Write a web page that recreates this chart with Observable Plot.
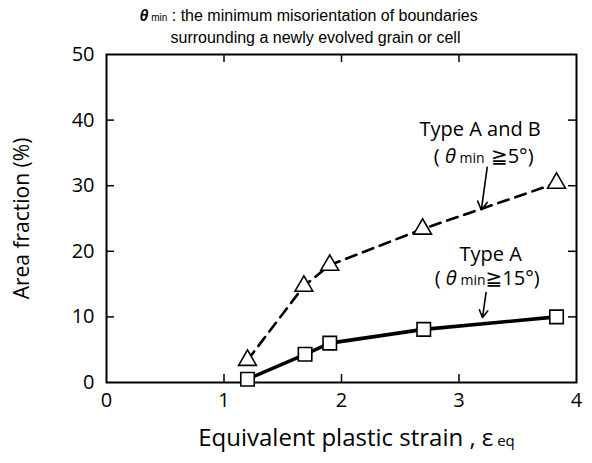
<!DOCTYPE html>
<html>
<head>
<meta charset="utf-8">
<script src="https://cdn.jsdelivr.net/npm/d3@7"></script>
<script src="https://cdn.jsdelivr.net/npm/@observablehq/plot@0.6"></script>
<style>
  html, body { margin: 0; padding: 0; background: #fff; }
  #chart svg { display: block; }
</style>
</head>
<body>
<div id="chart"></div>
<script>
// ---- data ----
const strainA = [1.2, 1.69, 1.9, 2.7, 3.83];
const fractionA = [0.5, 4.3, 6.0, 8.1, 10.0];
const strainAB = [1.2, 1.68, 1.9, 2.69, 3.83];
const fractionAB = [3.4, 14.7, 17.9, 23.4, 30.4];
const xTicks = [0, 1, 2, 3, 4];
const yTicks = [0, 10, 20, 30, 40, 50];
const xInnerTicks = [1, 2, 3];
const yInnerTicks = [10, 20, 30, 40];

const seriesA = strainA.map((x, i) => ({x, y: fractionA[i]}));
const seriesAB = strainAB.map((x, i) => ({x, y: fractionAB[i]}));

const labelFont = "'Open Sans', 'DejaVu Sans', sans-serif";
const titleFont = "'Liberation Sans', Arial, sans-serif";

const W = 592, H = 463;
const mL = 106, mR = 16, mT = 54, mB = 81;
const fw = W - mL - mR, fh = H - mT - mB;

const rich = {
  "TITLE1": [["θ", {"font-style": "italic", "font-weight": "bold"}], [" min", {"font-size": "10px"}], [" : the minimum misorientation of boundaries", {}]],
  "XLABEL": [["Equivalent plastic strain , ε", {}], [" eq", {"font-size": "15px"}]],
  "ANNAB": [["( ", {}], ["θ", {"font-style": "italic"}], [" min", {"font-size": "14px"}], [" ≧", {"font-family": "'DejaVu Sans', sans-serif"}], ["5°)", {}]],
  "ANNA": [["( ", {}], ["θ", {"font-style": "italic"}], [" min", {"font-size": "14px"}], ["≧", {"font-family": "'DejaVu Sans', sans-serif"}], ["15°)", {}]]
};

const plot = Plot.plot({
  width: W, height: H,
  marginLeft: mL, marginRight: mR, marginTop: mT, marginBottom: mB,
  style: {fontFamily: labelFont, background: "#fff", color: "#000"},
  x: {domain: [0, 4]},
  y: {domain: [0, 50]},
  marks: [
    Plot.axisX(xTicks, {tickSize: 0, tickPadding: 10, fontSize: 20, label: null, tickFormat: d3.format("d")}),
    Plot.axisY(yTicks, {tickSize: 0, tickPadding: 12, fontSize: 20, label: null, tickFormat: d3.format("d")}),
    Plot.tickX(xInnerTicks, {x: d => d, insetTop: fh - 8, strokeWidth: 1.5}),
    Plot.tickX(xInnerTicks, {x: d => d, insetBottom: fh - 8, strokeWidth: 1.5}),
    Plot.tickY(yInnerTicks, {y: d => d, insetRight: fw - 8, strokeWidth: 1.5}),
    Plot.tickY(yInnerTicks, {y: d => d, insetLeft: fw - 8, strokeWidth: 1.5}),
    Plot.frame({strokeWidth: 2}),
    Plot.line(seriesAB, {x: "x", y: "y", strokeWidth: 2.6, strokeDasharray: "11,7"}),
    Plot.line(seriesA, {x: "x", y: "y", strokeWidth: 3.6}),
    Plot.dot(seriesAB, {x: "x", y: "y", symbol: "triangle", r: 6.6, fill: "white", stroke: "black", strokeWidth: 1.6}),
    Plot.dot(seriesA, {x: "x", y: "y", symbol: "square", r: 7.6, fill: "white", stroke: "black", strokeWidth: 1.6}),
    Plot.arrow([{x1: 3.24, y1: 32.8, x2: 3.19, y2: 26.3}], {x1: "x1", y1: "y1", x2: "x2", y2: "y2", strokeWidth: 1.6, headLength: 9}),
    Plot.arrow([{x1: 3.23, y1: 13.7, x2: 3.2, y2: 9.9}], {x1: "x1", y1: "y1", x2: "x2", y2: "y2", strokeWidth: 1.6, headLength: 9}),
    Plot.text(["Type A and B"], {x: [3.18], y: [38.5], text: d => d, fontSize: 20, textAnchor: "middle"}),
    Plot.text(["ANNAB"], {x: [3.21], y: [34.5], text: d => d, fontSize: 20, textAnchor: "middle"}),
    Plot.text(["Type A"], {x: [3.27], y: [19.5], text: d => d, fontSize: 20, textAnchor: "middle"}),
    Plot.text(["ANNA"], {x: [3.24], y: [15.8], text: d => d, fontSize: 20, textAnchor: "middle"}),
    Plot.text(["XLABEL"], {frameAnchor: "bottom", text: d => d, lineAnchor: "middle", textAnchor: "middle", dy: 56, dx: 15, fontSize: 24}),
    Plot.text(["Area fraction (%)"], {frameAnchor: "left", text: d => d, lineAnchor: "middle", textAnchor: "middle", rotate: -90, dx: -84, fontSize: 21}),
    Plot.text(["TITLE1"], {frameAnchor: "top-left", text: d => d, lineAnchor: "middle", textAnchor: "start", dx: 33, dy: -39, fontSize: 16, fontFamily: titleFont}),
    Plot.text(["surrounding a newly evolved grain or cell"], {frameAnchor: "top-left", text: d => d, lineAnchor: "middle", textAnchor: "start", dx: 64, dy: -17, fontSize: 16, fontFamily: titleFont})
  ]
});

// rich text post-processing
plot.querySelectorAll("text").forEach(t => {
  const key = t.textContent;
  if (rich[key]) {
    t.textContent = "";
    for (const [s, attrs] of rich[key]) {
      const ts = document.createElementNS("http://www.w3.org/2000/svg", "tspan");
      ts.textContent = s;
      for (const k in attrs) ts.setAttribute(k, attrs[k]);
      t.appendChild(ts);
    }
  }
});

document.getElementById("chart").appendChild(plot);
</script>
</body>
</html>
